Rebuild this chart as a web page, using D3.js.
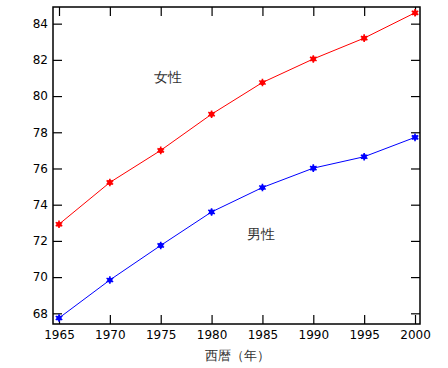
<!DOCTYPE html>
<html>
<head>
<meta charset="utf-8">
<script src="https://cdn.jsdelivr.net/npm/d3@7"></script>
<style>
body { margin: 0; background: #fff; }
text { font-family: "DejaVu Sans", sans-serif; }
</style>
</head>
<body>
<script>
var years = [1965, 1970, 1975, 1980, 1985, 1990, 1995, 2000];
var female = [72.92, 75.23, 77.0, 79.0, 80.75, 82.05, 83.2, 84.6];
var male = [67.74, 69.84, 71.75, 73.6, 74.95, 76.02, 76.65, 77.72];
var yTicks = [68, 70, 72, 74, 76, 78, 80, 82, 84];

var width = 448, height = 368;
var plotLeft = 53, plotRight = 420, plotTop = 7, plotBottom = 324;

var svg = d3.select("body").append("svg")
	.attr("width", width)
	.attr("height", height);

var x = d3.scaleLinear().domain([1964.41, 2000.49]).range([plotLeft, plotRight]);
var y = d3.scaleLinear().domain([67.41, 84.92]).range([plotBottom, plotTop]);

// frame
svg.append("rect")
	.attr("x", plotLeft).attr("y", plotTop)
	.attr("width", plotRight - plotLeft).attr("height", plotBottom - plotTop)
	.attr("fill", "none").attr("stroke", "#000").attr("stroke-width", 1.5);

// axes, ticks inward
var gx = svg.append("g").attr("transform", "translate(0," + plotBottom + ")")
	.call(d3.axisBottom(x).tickValues(years).tickFormat(d3.format("d")).tickSizeInner(-9).tickSizeOuter(0).tickPadding(6));
var gxt = svg.append("g").attr("transform", "translate(0," + plotTop + ")")
	.call(d3.axisTop(x).tickValues(years).tickFormat("").tickSizeInner(-9).tickSizeOuter(0));
var gy = svg.append("g").attr("transform", "translate(" + plotLeft + ",0)")
	.call(d3.axisLeft(y).tickValues(yTicks).tickSizeInner(-9).tickSizeOuter(0).tickPadding(5));
var gyr = svg.append("g").attr("transform", "translate(" + plotRight + ",0)")
	.call(d3.axisRight(y).tickValues(yTicks).tickFormat("").tickSizeInner(-9).tickSizeOuter(0));

[gx, gxt, gy, gyr].forEach(function(g) {
	g.select(".domain").remove();
	g.selectAll("line").attr("stroke", "#000").attr("stroke-width", 1.2);
	g.selectAll("text").attr("font-size", 12).attr("fill", "#000")
		.attr("font-family", "'DejaVu Sans', sans-serif");
});

function drawSeries(vals, color) {
	var pts = years.map(function(d, i) { return [d, vals[i]]; });
	var line = d3.line()
		.x(function(d) { return x(d[0]); })
		.y(function(d) { return y(d[1]); });
	svg.append("path")
		.datum(pts)
		.attr("d", line)
		.attr("fill", "none")
		.attr("stroke", color)
		.attr("stroke-width", 1);
	var m = svg.append("g").selectAll("g")
		.data(pts)
		.enter().append("g")
		.attr("transform", function(d) { return "translate(" + x(d[0]) + "," + y(d[1]) + ")"; });
	m.append("circle").attr("r", 2.6).attr("fill", color);
	m.append("path")
		.attr("d", d3.symbol().type(d3.symbolAsterisk).size(40))
		.attr("stroke", color).attr("stroke-width", 1.6).attr("fill", "none");
}

drawSeries(female, "#ff0000");
drawSeries(male, "#0000ff");

svg.append("text")
	.attr("x", 168).attr("y", 82)
	.attr("text-anchor", "middle")
	.attr("font-size", 14).attr("fill", "#333")
	.attr("font-family", "'Noto Sans CJK JP', sans-serif")
	.text("女性");
svg.append("text")
	.attr("x", 261).attr("y", 239)
	.attr("text-anchor", "middle")
	.attr("font-size", 14).attr("fill", "#333")
	.attr("font-family", "'Noto Sans CJK JP', sans-serif")
	.text("男性");
svg.append("text")
	.attr("x", 237).attr("y", 360)
	.attr("text-anchor", "middle")
	.attr("font-size", 13).attr("fill", "#333")
	.attr("font-family", "'Noto Sans CJK JP', sans-serif")
	.text("西暦（年）");
</script>
</body>
</html>
